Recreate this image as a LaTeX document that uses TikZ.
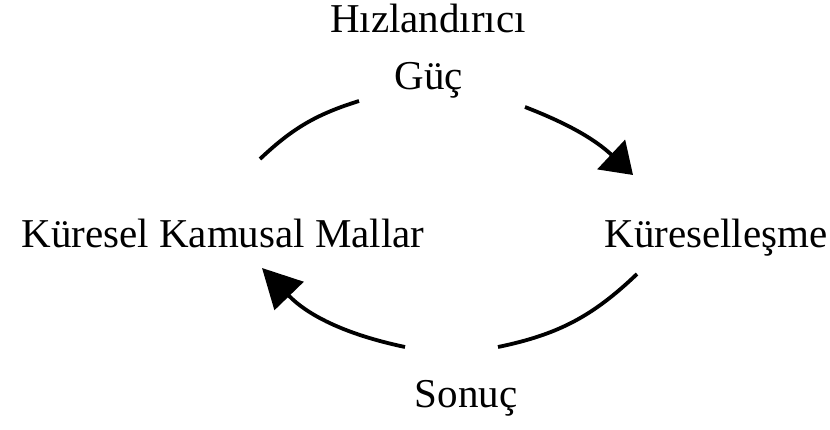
\documentclass[tikz,border=0pt]{standalone}
\usepackage{fontspec}
\setmainfont{Liberation Serif}
\usetikzlibrary{arrows.meta}
\begin{document}
\begin{tikzpicture}[x=1pt,y=-1pt,
  lbl/.style={inner sep=0pt,anchor=base,font=\fontsize{41}{48}\selectfont},
  arc/.style={line width=3.8pt,black},
  bigtip/.style={-{Triangle[length=#1,width=40pt]}}]
\useasboundingbox (0,0) rectangle (830,430);
\node[lbl] (hiz) at (428,33) {Hızlandırıcı};
\node[lbl] (guc) at (429,90) {Güç};
\node[lbl] (kkm) at (223,248) {Küresel Kamusal Mallar};
\node[lbl] (kur) at (716,248) {Küreselleşme};
\node[lbl] (son) at (466,407) {Sonuç};
\coordinate (a1) at (260,159);
\coordinate (a2) at (359,101);
\coordinate (b1) at (525,107);
\coordinate (b2) at (633,175);
\coordinate (c1) at (637,274);
\coordinate (c2) at (498,347);
\coordinate (d1) at (405,347);
\coordinate (d2) at (262,268);
\draw[arc] (a1) to[bend left=13] (a2);
\draw[arc,bigtip=30pt] (b1) to[bend left=11] (b2);
\draw[arc] (c1) to[bend left=16] (c2);
\draw[arc,bigtip=39pt] (d1) to[bend left=17] (d2);
\end{tikzpicture}
\end{document}
